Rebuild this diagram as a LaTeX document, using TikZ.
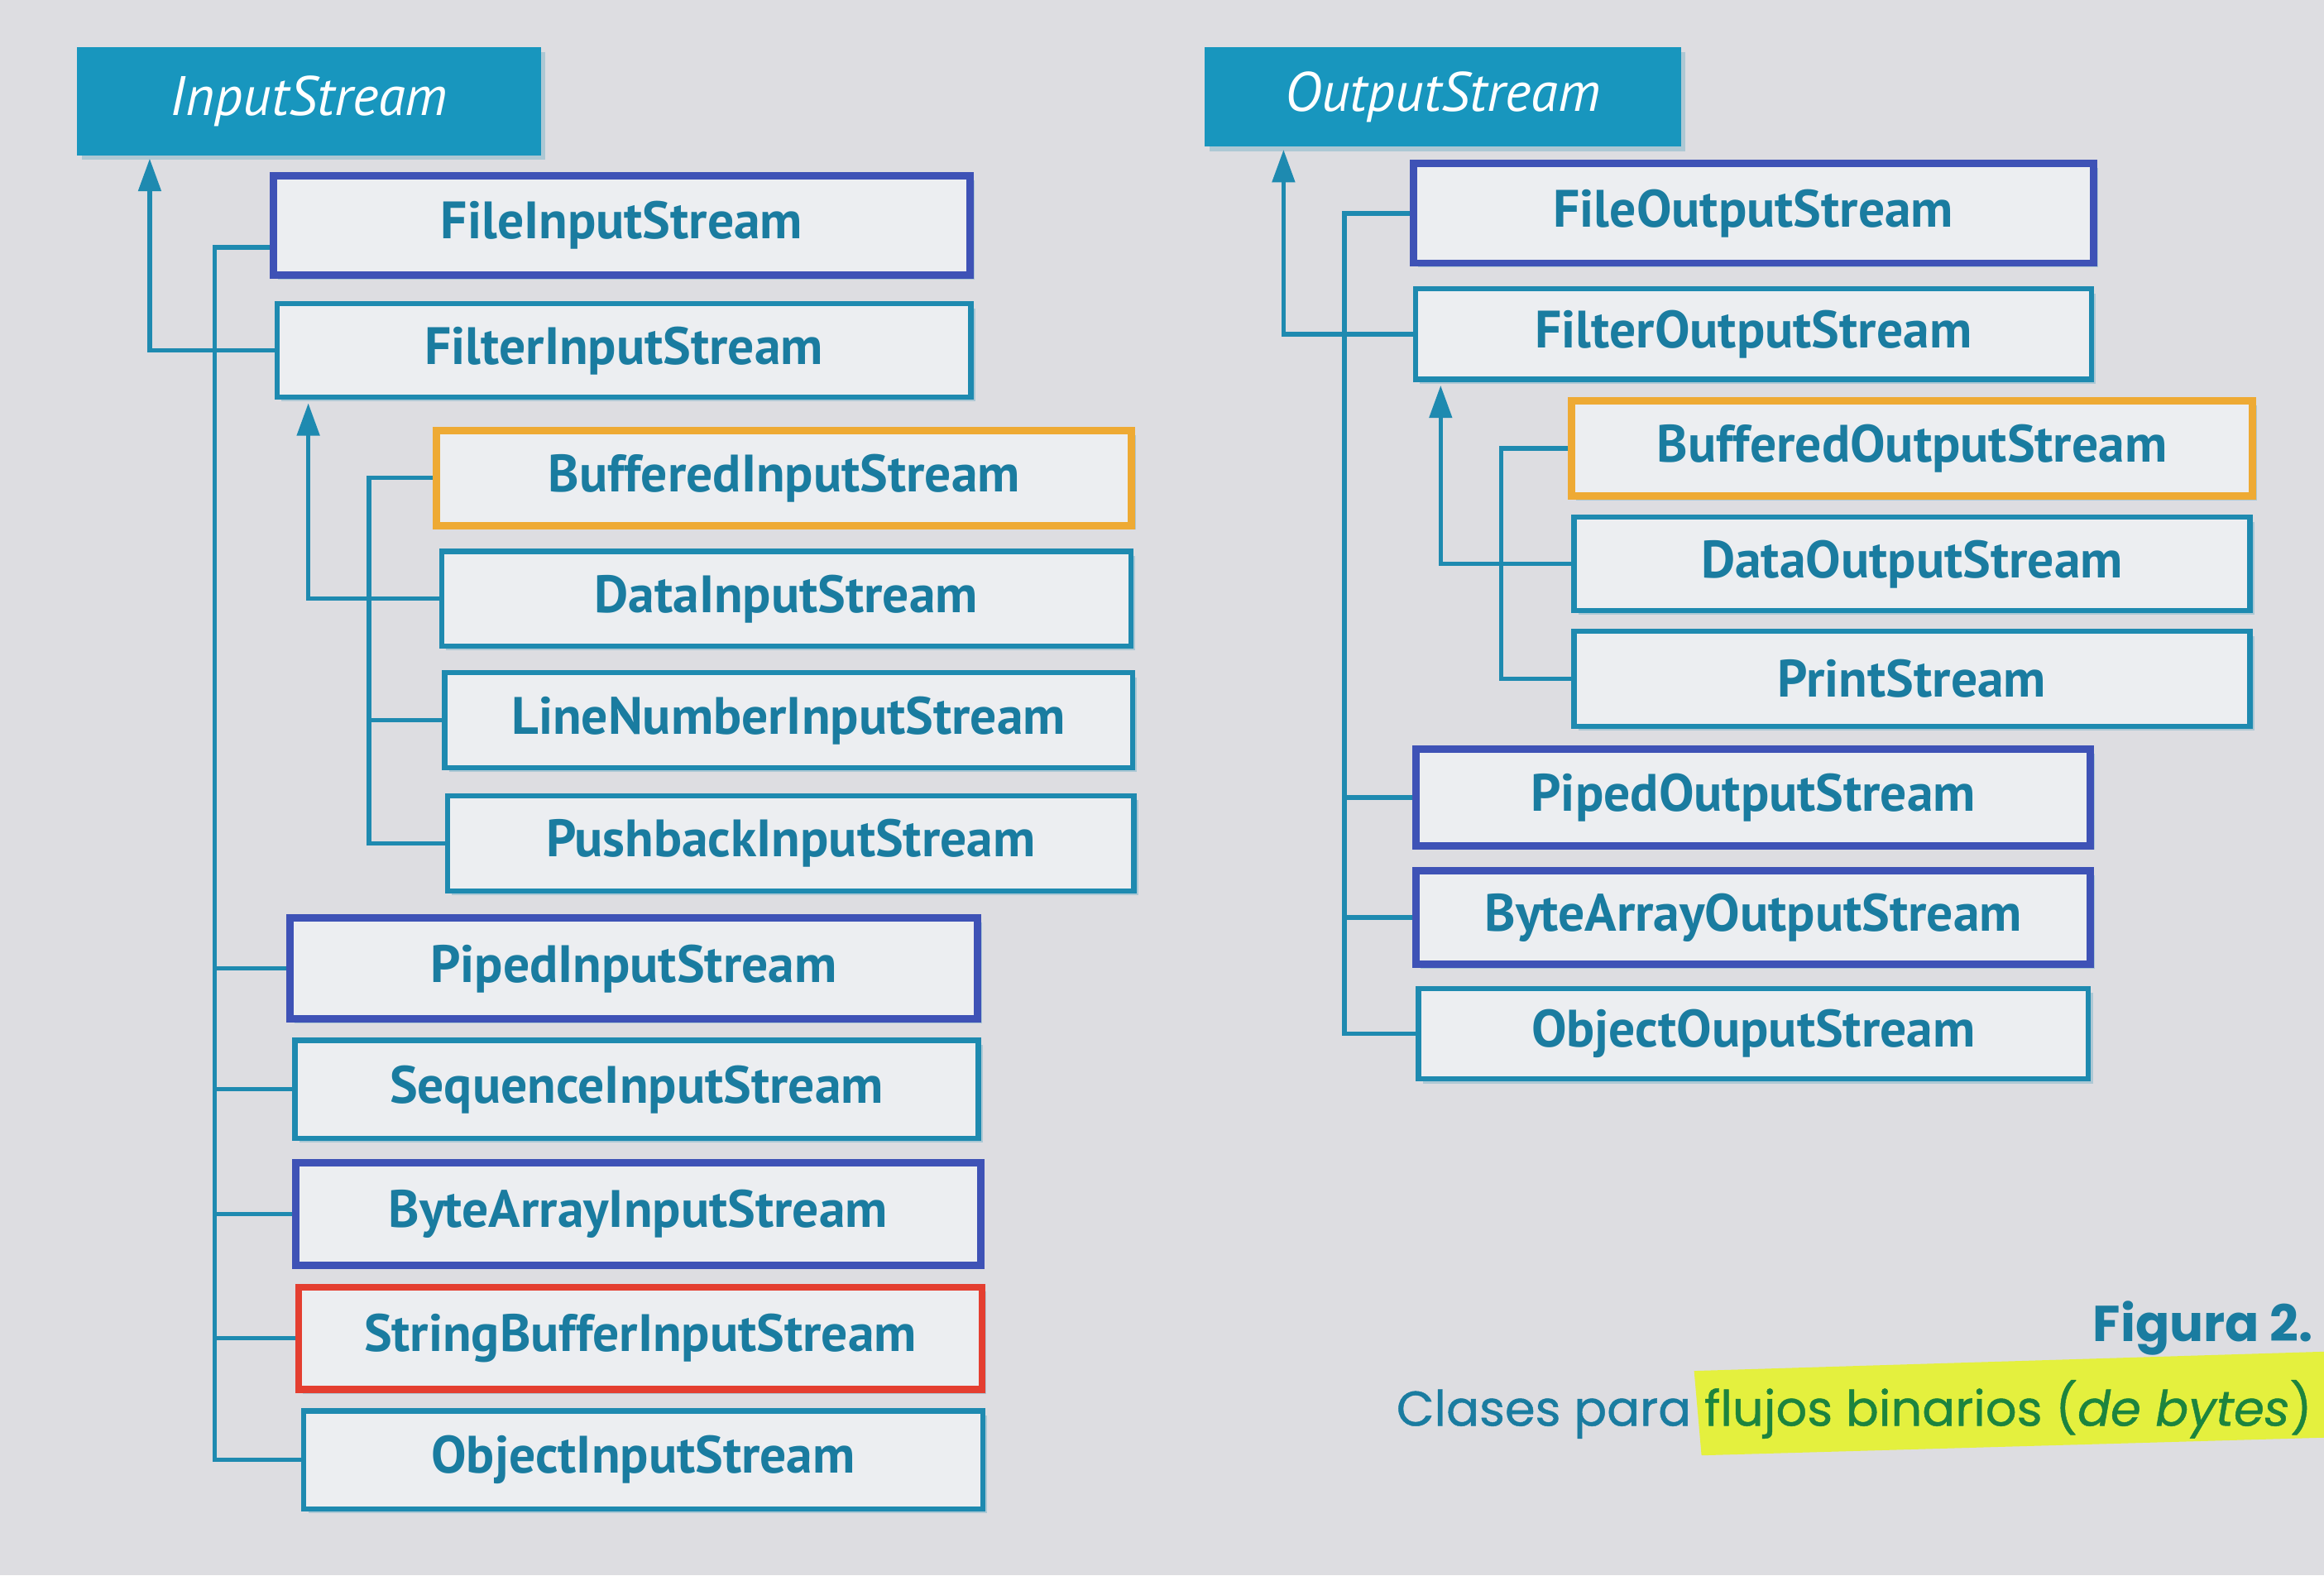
\documentclass[tikz,border=0pt]{standalone}
\usepackage{fontspec}
\setmainfont{PT Sans}
\newfontfamily\capfont{Poppins}[FakeBold=0.8]
\newfontfamily\capboldfont{Poppins}
\usetikzlibrary{arrows.meta,shadows}

\definecolor{paper}{RGB}{221,221,225}
\definecolor{boxfill}{RGB}{236,238,241}
\definecolor{streamteal}{RGB}{30,138,176}
\definecolor{headteal}{RGB}{24,150,190}
\definecolor{labelteal}{RGB}{26,124,160}
\definecolor{streamblue}{RGB}{62,82,182}
\definecolor{streamorange}{RGB}{238,170,52}
\definecolor{streamred}{RGB}{228,62,48}
\definecolor{capgreen}{RGB}{28,132,62}
\definecolor{marker}{RGB}{228,240,62}

\tikzset{
  cls/.style={draw=streamteal, line width=3.5pt, fill=boxfill, text=labelteal,
    font=\fontsize{35.5}{36}\selectfont\bfseries, inner sep=0pt,
    drop shadow={shadow xshift=3pt, shadow yshift=-3pt, fill=streamteal, opacity=0.25}},
  clsblue/.style={cls, draw=streamblue, line width=5pt},
  clsorange/.style={cls, draw=streamorange, line width=5pt},
  clsred/.style={cls, draw=streamred, line width=4.5pt},
  head/.style={fill=headteal, text=white, inner sep=0pt,
    font=\fontsize{37.5}{38}\selectfont\itshape,
    drop shadow={shadow xshift=3pt, shadow yshift=-3pt, fill=streamteal, opacity=0.25}},
  conn/.style={draw=streamteal, line width=3pt},
  up/.style={conn, -{Triangle[length=22pt,width=15pt]}},
}

\begin{document}
\begin{tikzpicture}[x=1pt,y=-1pt]
\useasboundingbox (0,0) rectangle (1568,1063);
\fill[paper] (0,0) rectangle (1568,1063);
\clip (0,0) rectangle (1568,1063);

% InputStream hierarchy
\node[head, minimum width=313pt, minimum height=73pt] (inStream) at (208.5,68.5) {InputStream};
\node[clsblue, minimum width=470pt, minimum height=67pt] (fileIn) at (419.5,152) {FileInputStream};
\node[cls, minimum width=468pt, minimum height=63pt] (filterIn) at (421,236.5) {FilterInputStream};
\node[clsorange, minimum width=469pt, minimum height=64pt] (bufIn) at (529,322.5) {BufferedInputStream};
\node[cls, minimum width=465pt, minimum height=64pt] (dataIn) at (530.5,404) {DataInputStream};
\node[cls, minimum width=464pt, minimum height=64pt] (lineIn) at (532,486) {LineNumberInputStream};
\node[cls, minimum width=463pt, minimum height=64pt] (pushIn) at (533.5,569) {PushbackInputStream};
\node[clsblue, minimum width=464pt, minimum height=68pt] (pipedIn) at (427.5,653.5) {PipedInputStream};
\node[cls, minimum width=461pt, minimum height=66pt] (seqIn) at (429.5,735) {SequenceInputStream};
\node[clsblue, minimum width=462pt, minimum height=69pt] (byteIn) at (430.5,819) {ByteArrayInputStream};
\node[clsred, minimum width=461pt, minimum height=69pt] (sbufIn) at (432,903) {StringBufferInputStream};
\node[cls, minimum width=458pt, minimum height=66pt] (objIn) at (434,985) {ObjectInputStream};

\coordinate (inArrow) at (101,107);
\coordinate (inTrunk) at (145,0);
\coordinate (filterArrow) at (208,272);
\coordinate (filterTrunk) at (249,0);

\draw[up] (filterIn.west) -| (inArrow);
\draw[conn] ([yshift=-15pt]fileIn.west) -| (inTrunk |- objIn.west) -- (objIn.west);
\foreach \n in {pipedIn,seqIn,byteIn,sbufIn}
  \draw[conn] (\n.west) -- (\n.west -| inTrunk);
\draw[up] (dataIn.west) -| (filterArrow);
\draw[conn] (bufIn.west) -| (filterTrunk |- pushIn.west) -- (pushIn.west);
\draw[conn] (lineIn.west) -- (lineIn.west -| filterTrunk);

% OutputStream hierarchy
\node[head, minimum width=321pt, minimum height=67pt] (outStream) at (973.5,65.5) {OutputStream};
\node[clsblue, minimum width=459pt, minimum height=67pt] (fileOut) at (1183,144) {FileOutputStream};
\node[cls, minimum width=456pt, minimum height=61pt] (filterOut) at (1183,225.5) {FilterOutputStream};
\node[clsorange, minimum width=459pt, minimum height=64pt] (bufOut) at (1290,302.5) {BufferedOutputStream};
\node[cls, minimum width=456pt, minimum height=63pt] (dataOut) at (1290,380.5) {DataOutputStream};
\node[cls, minimum width=456pt, minimum height=64pt] (printOut) at (1290,458) {PrintStream};
\node[clsblue, minimum width=455pt, minimum height=65pt] (pipedOut) at (1183,538) {PipedOutputStream};
\node[clsblue, minimum width=455pt, minimum height=63pt] (byteOut) at (1183,619) {ByteArrayOutputStream};
\node[cls, minimum width=452pt, minimum height=61pt] (objOut) at (1183,697.5) {ObjectOuputStream};

\coordinate (outArrow) at (866,101);
\coordinate (outTrunk) at (907,0);
\coordinate (filterOutArrow) at (972,260);
\coordinate (filterOutTrunk) at (1013,0);

\draw[up] (filterOut.west) -| (outArrow);
\draw[conn] (fileOut.west) -| (outTrunk |- objOut.west) -- (objOut.west);
\foreach \n in {pipedOut,byteOut}
  \draw[conn] (\n.west) -- (\n.west -| outTrunk);
\draw[up] (dataOut.west) -| (filterOutArrow);
\draw[conn] (bufOut.west) -| (filterOutTrunk |- printOut.west) -- (printOut.west);

% caption
\fill[marker] (1143,925) -- (1568,912) -- (1568,970) -- (1148,982) -- cycle;
\node[anchor=base west, inner sep=0pt, text=labelteal, font=\capboldfont\bfseries\fontsize{34}{34}\selectfont] (figNum) at (1412,905) {Figura 2.};
\node[anchor=base west, inner sep=0pt, text=labelteal, font=\capfont\fontsize{33}{33}\selectfont] (figText) at (942,962)
  {Clases para \textcolor{capgreen}{flujos binarios (\textit{de bytes})}};
\end{tikzpicture}
\end{document}
